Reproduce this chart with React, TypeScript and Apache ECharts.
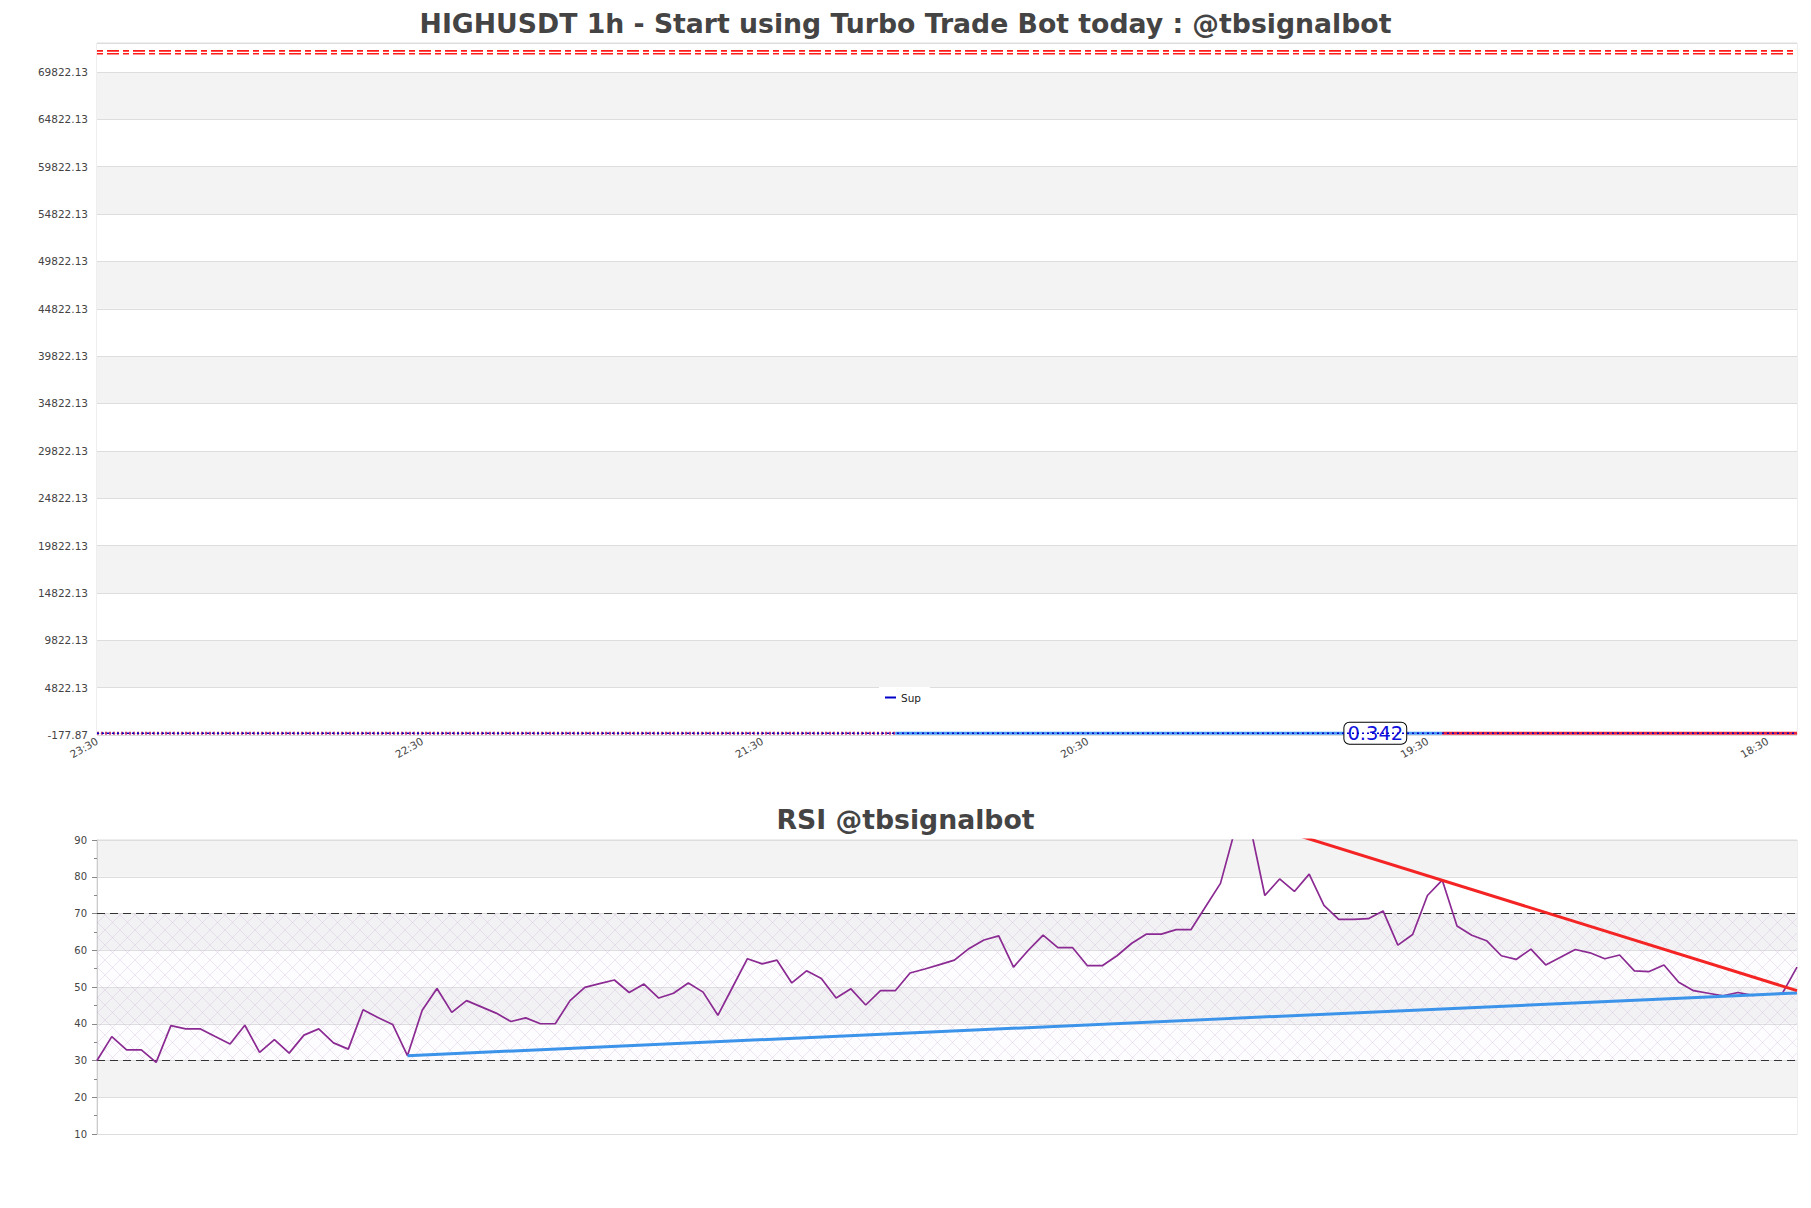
import React, { useEffect, useRef } from "react";
import * as echarts from "echarts";

// ---------- data ----------
const rsiValues: number[] = [
  30.0, 36.5, 32.9, 32.9, 29.5, 39.5, 38.6, 38.6, 36.5, 34.5,
  39.6, 32.2, 35.7, 32.0, 36.9, 38.6, 34.8, 33.1, 43.8, 41.7,
  39.8, 31.3, 43.7, 49.6, 43.1, 46.3, 44.6, 42.9, 40.6, 41.6,
  40.0, 40.0, 46.3, 49.9, 50.9, 51.9, 48.5, 50.8, 47.0, 48.3,
  51.1, 48.6, 42.3, 50.0, 57.7, 56.3, 57.3, 51.1, 54.4, 52.3,
  47.0, 49.5, 45.1, 49.0, 49.0, 53.8, 54.9, 56.1, 57.3, 60.5,
  62.8, 63.9, 55.4, 60.0, 64.1, 60.7, 60.7, 55.8, 55.8, 58.5,
  61.9, 64.4, 64.4, 65.6, 65.6, 71.9, 78.2, 93.0, 94.0, 74.9,
  79.4, 76.0, 80.7, 72.2, 68.4, 68.4, 68.6, 70.7, 61.4, 64.3,
  74.9, 79.1, 66.6, 64.1, 62.6, 58.5, 57.5, 60.3, 56.0, 58.1,
  60.2, 59.3, 57.7, 58.7, 54.4, 54.2, 56.0, 51.3, 49.0, 48.3,
  47.6, 48.5, 47.7, 48.1, 48.2, 55.4,
];

const xTickLabels = ["23:30", "22:30", "21:30", "20:30", "19:30", "18:30"];
const xTickIndices = [0, 22, 45, 67, 90, 113];

// price-chart horizontal levels: [index, value]
const resistanceLevel: [number, number][] = [[0, 71900], [115, 71900]];
const supLevel: [number, number][] = [[0, 0.342], [115, 0.342]];
const earlyPriceLevel: [number, number][] = [[0, 0.342], [54, 0.342]];
const midPriceLevel: [number, number][] = [[54, 0.342], [91, 0.342]];
const latePriceLevel: [number, number][] = [[91, 0.342], [115, 0.342]];
const lastPrice = 0.342;
const lastPriceLabelAt = 86;

// price y-axis
const priceMin = -177.87;
const priceMax = 72880;
const priceStep = 5000;

// RSI trend lines: [index, value]
const rsiSupportTrend: [number, number][] = [[21, 31.3], [115, 48.4]];
const rsiResistanceTrend: [number, number][] = [[78, 95.3], [115, 49.0]];
const rsiBands = [30, 70];

const FONT = "DejaVu Sans";

function makeHatch(): HTMLCanvasElement {
  const s = 15;
  const c = document.createElement("canvas");
  c.width = s;
  c.height = s;
  const ctx = c.getContext("2d")!;
  ctx.fillStyle = "rgba(235,215,240,0.08)";
  ctx.fillRect(0, 0, s, s);
  ctx.strokeStyle = "rgba(190,160,205,0.30)";
  ctx.lineWidth = 0.8;
  ctx.beginPath();
  ctx.moveTo(0, 0);
  ctx.lineTo(s, s);
  ctx.moveTo(s, 0);
  ctx.lineTo(0, s);
  ctx.stroke();
  return c;
}

export default function App() {
  const ref = useRef<HTMLDivElement>(null);

  useEffect(() => {
    if (!ref.current) return;
    const chart = echarts.init(ref.current, null, { renderer: "svg" });
    const categories = rsiValues.map((_, i) => String(i));
    const hatch = makeHatch();

    const xLabelFormatter = (_v: string, idx: number) => {
      const k = xTickIndices.indexOf(idx);
      return k >= 0 ? xTickLabels[k] : "";
    };

    const titleStyle = { fontFamily: FONT, fontWeight: "bold", fontSize: 26.7, color: "#444444" };

    const option: any = {
      animation: false,
      backgroundColor: "#ffffff",
      textStyle: { fontFamily: FONT },
      title: [
        {
          text: "HIGHUSDT 1h - Start using Turbo Trade Bot today : @tbsignalbot",
          left: "center",
          top: 5,
          textStyle: titleStyle,
        },
        {
          text: "RSI @tbsignalbot",
          left: "center",
          top: 801,
          textStyle: titleStyle,
        },
      ],
      legend: {
        data: [{ name: "Sup", icon: "rect" }],
        left: 879,
        top: 687,
        backgroundColor: "#ffffff",
        padding: [5, 9, 5, 6],
        itemWidth: 11,
        itemHeight: 2,
        textStyle: { fontFamily: FONT, fontSize: 10.5, color: "#222" },
      },
      grid: [
        { left: 97, width: 1700, top: 43, height: 692, show: true, borderColor: "#dddddd", borderWidth: 1, backgroundColor: "transparent" },
        { left: 97, width: 1700, top: 840, height: 294, show: true, borderColor: "#dddddd", borderWidth: 1, backgroundColor: "transparent" },
      ],
      xAxis: [
        {
          type: "category",
          gridIndex: 0,
          data: categories,
          boundaryGap: false,
          axisLine: { show: true, lineStyle: { color: "#dddddd" } },
          axisTick: { show: false },
          splitLine: { show: false },
          axisLabel: {
            interval: (idx: number) => xTickIndices.indexOf(idx) >= 0,
            formatter: xLabelFormatter,
            rotate: 30,
            fontFamily: FONT,
            fontSize: 10.5,
            color: "#444",
            margin: 5,
          },
        },
        {
          type: "category",
          gridIndex: 1,
          data: categories,
          boundaryGap: false,
          axisLine: { show: true, lineStyle: { color: "#dddddd" } },
          axisTick: { show: false },
          axisLabel: { show: false },
          splitLine: { show: false },
        },
      ],
      yAxis: [
        {
          type: "value",
          gridIndex: 0,
          min: priceMin,
          max: priceMax,
          interval: priceStep,
          axisLine: { show: false },
          axisTick: { show: false },
          axisLabel: {
            fontFamily: FONT,
            fontSize: 10.5,
            color: "#444",
            margin: 9,
            showMaxLabel: false,
            formatter: (v: number) => v.toFixed(2),
          },
          splitLine: { show: true, lineStyle: { color: "#dddddd", width: 1 } },
          splitArea: { show: true, areaStyle: { color: ["#ffffff", "#f3f3f3"] } },
        },
        {
          type: "value",
          gridIndex: 1,
          min: 10,
          max: 90,
          interval: 10,
          axisLine: { show: true, lineStyle: { color: "#cccccc" } },
          axisTick: { show: true, length: 5, lineStyle: { color: "#888" } },
          minorTick: { show: true, splitNumber: 2, length: 3, lineStyle: { color: "#888" } },
          axisLabel: { fontFamily: FONT, fontSize: 10, color: "#444", margin: 10 },
          splitLine: { show: true, lineStyle: { color: "#dddddd", width: 1 } },
          splitArea: { show: true, areaStyle: { color: ["#ffffff", "#f3f3f3"] } },
        },
      ],
      series: [
        {
          name: "Resistance",
          type: "line",
          xAxisIndex: 0,
          yAxisIndex: 0,
          data: resistanceLevel,
          symbol: "none",
          lineStyle: { color: "#ff1a1a", width: 4.5, type: [6, 4, 12, 4] },
          z: 3,
        },
        {
          name: "ResistanceInner",
          type: "line",
          xAxisIndex: 0,
          yAxisIndex: 0,
          data: resistanceLevel,
          symbol: "none",
          lineStyle: { color: "#ffffff", width: 1.3, type: [6, 4, 12, 4] },
          z: 4,
        },
        {
          name: "PriceEarly",
          type: "line",
          xAxisIndex: 0,
          yAxisIndex: 0,
          data: earlyPriceLevel,
          symbol: "none",
          lineStyle: { color: "#c03a7a", width: 3, type: [2, 2] },
          z: 3,
        },
        {
          name: "PriceMid",
          type: "line",
          xAxisIndex: 0,
          yAxisIndex: 0,
          data: midPriceLevel,
          symbol: "none",
          lineStyle: { color: "#4a9cf0", width: 3 },
          z: 3,
        },
        {
          name: "PriceLate",
          type: "line",
          xAxisIndex: 0,
          yAxisIndex: 0,
          data: latePriceLevel,
          symbol: "none",
          lineStyle: { color: "#e8283c", width: 3 },
          z: 3,
        },
        {
          name: "Sup",
          type: "line",
          xAxisIndex: 0,
          yAxisIndex: 0,
          data: supLevel,
          symbol: "none",
          color: "#0000c8",
          lineStyle: { color: "#0000c8", width: 1.6, type: [2, 3] },
          z: 5,
          markPoint: {
            silent: true,
            symbol: "circle",
            symbolSize: 1,
            itemStyle: { color: "transparent" },
            data: [{ coord: [lastPriceLabelAt, lastPrice], value: lastPrice }],
            label: {
              show: true,
              position: "inside",
              offset: [7, 0],
              formatter: String(lastPrice),
              fontFamily: FONT,
              fontSize: 19.5,
              color: "#1010dd",
              backgroundColor: "#ffffff",
              borderColor: "#000000",
              borderWidth: 1,
              borderRadius: 5,
              padding: [1, 3, 0, 3],
            },
          },
        },
        {
          name: "RSI",
          type: "line",
          xAxisIndex: 1,
          yAxisIndex: 1,
          data: rsiValues,
          symbol: "none",
          lineStyle: { color: "#8a2a92", width: 1.7 },
          z: 5,
          markArea: {
            silent: true,
            itemStyle: { color: { image: hatch, repeat: "repeat", imageWidth: 15, imageHeight: 15 } },
            data: [[{ yAxis: rsiBands[0] }, { yAxis: rsiBands[1] }]],
          },
          markLine: {
            silent: true,
            symbol: "none",
            label: { show: false },
            lineStyle: { color: "#333333", width: 1.2, type: [8, 5] },
            data: rsiBands.map((v) => ({ yAxis: v })),
          },
        },
        {
          name: "RSI Support",
          type: "line",
          xAxisIndex: 1,
          yAxisIndex: 1,
          data: rsiSupportTrend,
          symbol: "none",
          lineStyle: { color: "#3b93ea", width: 3 },
          z: 6,
        },
        {
          name: "RSI Resistance",
          type: "line",
          xAxisIndex: 1,
          yAxisIndex: 1,
          data: rsiResistanceTrend,
          symbol: "none",
          clip: true,
          lineStyle: { color: "#f42424", width: 3 },
          z: 6,
        },
      ],
    };

    chart.setOption(option);
    return () => {
      chart.dispose();
    };
  }, []);

  return (
    <div
      ref={ref}
      style={{ position: "fixed", left: 0, top: 0, width: 1811, height: 1208, background: "#fff" }}
    />
  );
}
